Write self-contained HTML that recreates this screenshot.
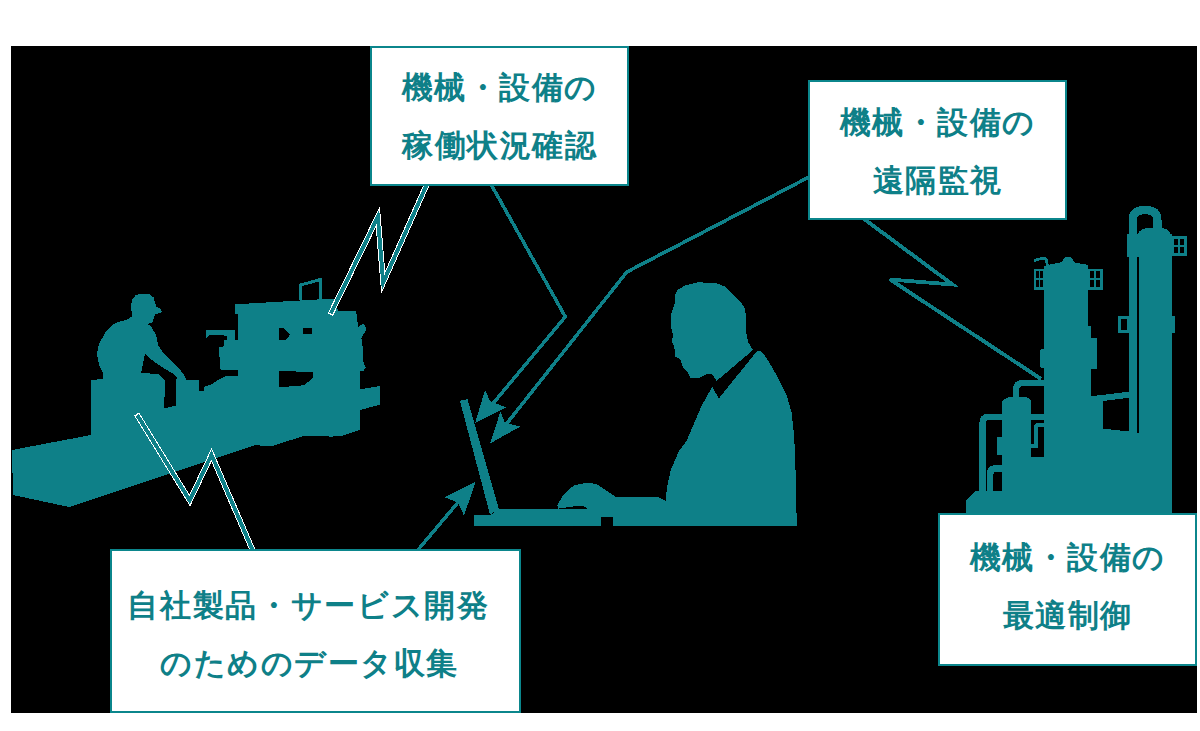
<!DOCTYPE html>
<html lang="ja">
<head>
<meta charset="utf-8">
<style>
html,body{margin:0;padding:0;background:#fff;width:1200px;height:731px;overflow:hidden;}
#stage{position:relative;width:1200px;height:731px;}
#bg{position:absolute;left:11px;top:46px;width:1186px;height:667px;background:#000;}
svg{position:absolute;left:0;top:0;}
.box{position:absolute;box-sizing:border-box;background:#fff;border:2px solid #0b868c;}
.t{position:absolute;left:0;right:0;text-align:center;white-space:nowrap;font-family:"Liberation Sans",sans-serif;font-weight:bold;color:#0e8088;font-size:30.5px;line-height:32px;letter-spacing:1.5px;}
</style>
</head>
<body>
<div id="stage">
<div id="bg"></div>
<svg width="1200" height="731" viewBox="0 0 1200 731" shape-rendering="crispEdges">
<g fill="#0e8088" stroke="none">
<!-- machine + worker -->
<path id="machine" d="M12,450 L91,435 L90.5,380 L103,379 L103,373 L99,365 L97,354 L99,344 L105,333 L112,325 L118,322 L126,320 L131.7,316.6 L131.3,304.1 L132.1,299.4 L135.5,295.5 L141.2,293.6 L148.9,294 L153.7,297.4 L155,303.2 L156.6,307 L160.4,308.9 L161.9,311.4 L160.4,313.3 L155.6,313.7 L153.7,318.5 L152.3,322.3 L147.9,324.2 L150.8,326.1 L156,335 L158.5,346 L164,354 L172,361.6 L179.5,369 L184,375 L186,379.5 L199,380.2 L199.5,390.8 L204,390.8 L204,387 L212,384 L219,379.5 L226.6,375.7 L238,375.7 L238,370.5 L220.6,369.7 L219.8,363.7 L219.1,347.1 L223.6,346.4 L223.6,340.4 L226.6,339.6 L226.6,335.9 L219.8,335 L209.3,335 L206.3,338 L206.3,329.8 L235,329.8 L235,339.6 L238,339.6 L238,314 L235.3,314 L235.3,304.3 L334,298.5 L338,310.5 L355.8,310.5 L357,316 L358,327 L363.5,323.6 L366.8,329 L361.3,337.9 L362.4,344.4 L363.5,362 L365.7,367.4 L363.5,370.7 L360.2,370.7 L360.2,389.3 L380,386 L380,404.7 L360,410 L360,430 L342.6,435.5 L331.7,436.6 L305.4,435.5 L270.4,446.5 L255,445 L69,507 L13,495 Z"/>
</g>
<g fill="#000">
<path d="M145,354 L141,373 L158.5,374 L165,380.7 L164.2,408.4 L175.7,405.6 L175.7,379.7 L177.6,377.8 L172,373 L162.3,367.3 L152.7,360.6 Z"/>
<path d="M279,328 L284,328 L290,334.5 L286,340 L279,340 Z"/>
<path d="M303.3,328 L312,328 L312,333.5 L303.3,333.5 Z"/>
<path d="M279.2,371 L313.1,372 L313.1,377.5 L304.3,385.2 L279.2,387.4 Z"/>
</g>
<path d="M300.5,300 V285 L320.5,279.5 V299" fill="none" stroke="#0e8088" stroke-width="3"/>

<!-- person -->
<g fill="#0e8088">
<path d="M675.3,294.2 L677.2,290.3 L684.9,285.5 L698.3,282.3 L715.5,283 L725.1,286.5 L736.6,298 L744.3,306.6 L746.2,317.1 L746.2,332.5 L748.1,342 L753,350 L716.5,381 L712.7,374.6 L707.9,373.6 L700.2,377.5 L690.6,378.4 L687.8,372.7 L683,367 L680.1,359.3 L675.3,356.4 L674.4,347.8 L671.5,340.1 L673.4,336.3 L670.5,324.8 L671.5,313.3 L675.3,301.8 Z"/>
<path d="M756.5,351.7 L760.4,350.9 L764,354.5 L768.2,360.8 L777.3,376.4 L786.4,394.5 L791.6,412.7 L794.2,436.1 L795.5,469.9 L796.8,525.5 L613.3,525.5 L613.3,517.3 L600.7,517.3 L600.7,525.5 L474,525.5 L474,515.3 L490,515.3 L498.7,509.3 L588.7,509.3 L583.3,506 L576.7,506 L558,508.7 L557.3,505.3 L563.3,494.7 L574,485.3 L587.3,482.7 L596.7,484 L603.3,488.7 L616.7,497.3 L658.2,497.2 L665.6,501 L666.9,488 L670.8,469.9 L678.6,451.7 L686.4,441.3 L702,405 L712.3,386.8 L718.8,398.4 Z"/>
<!-- laptop screen -->
<path d="M459.9,400.8 L467.5,399.3 L499,509.3 L490,514.5 Z"/>
</g>
<!-- arrows -->
<g fill="none" stroke="#0e8088" stroke-width="3.5" stroke-linejoin="miter">
<polyline points="491.4,185 565.3,316.7 486,412"/>
<polyline points="808.7,177.2 626.8,272 500,432"/>
<polyline points="417.9,550 460,500"/>
<polyline points="864.4,219.2 952.5,284.5 890,279.5 1041,378.9" stroke-width="3.8"/>
</g>
<g fill="#0e8088">
<path d="M475.2,422.7 L485,389.9 L490,401 L505.8,407.4 Z"/>
<path d="M490,443.5 L500.4,411.7 L505,423 L520.5,426.4 Z"/>
<path d="M475.7,481.7 L444.3,497.1 L458,502.6 L464,515.6 Z"/>
</g>
<!-- zigzags with white outline -->
<g fill="none" stroke-linejoin="miter" stroke-miterlimit="30">
<polyline points="136.6,414 189.75,500.5 211.5,454.8 253,551" stroke="#fff" stroke-width="5.8"/>
<polyline points="137.3,415.1 189.75,500.5 211.5,454.8 253,551" stroke="#0e8088" stroke-width="3.9"/>
<polyline points="427,184 383.2,282.5 377.85,216.9 330.3,314.6" stroke="#fff" stroke-width="5.8"/>
<polyline points="427,184 383.2,282.5 377.85,216.9 330.9,313.4" stroke="#0e8088" stroke-width="3.9"/>
</g>

<!-- factory -->
<g fill="#0e8088">
<path d="M966,513.5 L966,500.2 L975.4,491 L1172.1,491 L1172.1,513.5 Z"/>
<path d="M1002,513 V401 L1009,396.7 H1025.6 L1030.7,399.7 V513 Z"/>
<rect x="996.9" y="436.6" width="6" height="18.4"/>
<rect x="1030" y="414" width="16" height="99"/>
<path d="M1044,266.5 L1048.4,264.9 L1060.4,262.4 L1062.2,262.4 Q1062.6,257.1 1068,257.1 Q1073.4,257.1 1073.9,262.4 L1076,262.7 L1087.3,264.8 L1088.3,266.5 V513 H1044 Z"/>

<rect x="1040.3" y="348.6" width="57" height="19.7" rx="2"/>
<rect x="1088" y="326" width="3" height="76"/>
<rect x="1090" y="337.6" width="7.3" height="31"/>
<path d="M1088.5,396.6 L1138.5,390.5 L1138.5,396.6 L1088.5,402.8 Z"/>
<rect x="1088" y="400" width="15" height="91"/>
<rect x="1088" y="428" width="84.1" height="63"/>
<rect x="1128.9" y="234.4" width="43.2" height="279"/>
<rect x="1126.9" y="234.4" width="45.2" height="23"/>
<path d="M1137.7,234.4 Q1140,228 1150,227.9 L1160,227.9 Q1169,228 1170.5,234.4 Z"/>
<rect x="1128" y="316" width="46.8" height="16.5"/>
</g>
<g fill="none" stroke="#0e8088">
<path d="M982.5,491 V423 Q982.5,417 988.5,417 H1003" stroke-width="6.2"/>
<path d="M990.2,491 V474 Q990.2,468.4 995.5,468.4 H1003" stroke-width="6.5"/>
<path d="M1016,398 V390 Q1016,383.3 1022,383.3 H1046" stroke-width="6.2"/>
<path d="M1132.8,236 V220 Q1132.8,210 1145,210 Q1157.3,210 1157.3,220 V232" stroke-width="8.4"/>
<rect x="1035" y="270" width="9" height="18.5" stroke-width="2.5"/>
<path d="M1039.5,270 V288.5 M1035,279 H1044" stroke-width="1.5"/>
<rect x="1088.7" y="270" width="12.8" height="18.5" stroke-width="2.5"/>
<path d="M1095,270 V288.5 M1088.7,279 H1101.5" stroke-width="1.5"/>
<rect x="1119.3" y="317.3" width="9" height="14" stroke-width="2.5"/>
<rect x="1173" y="237.5" width="12.5" height="16.8" stroke-width="2.5"/>
<path d="M1179,237.5 V254.3 M1173,246 H1185.5" stroke-width="1.5"/>
<path d="M1034,261 Q1040,257.5 1046,259 L1047.5,266" stroke-width="2.8"/>
</g>
<g fill="#000">
<path d="M1102.8,401.5 L1128.9,398 L1128.9,431.5 L1102.8,428.6 Z"/>
<rect x="1136.7" y="257.4" width="2.2" height="175.4"/>
<rect x="1031" y="419.5" width="13" height="37.5"/>
</g>
<path d="M1045,425 H1039 Q1036,425 1036,428 V446 H1031" fill="none" stroke="#0e8088" stroke-width="4.5"/>
</svg>

<div class="box" style="left:370px;top:46px;width:259px;height:140px;"><div class="t" style="top:23px">機械・設備の</div><div class="t" style="top:81px">稼働状況確認</div></div>
<div class="box" style="left:808px;top:80px;width:259px;height:140px;"><div class="t" style="top:24px">機械・設備の</div><div class="t" style="top:82px">遠隔監視</div></div>
<div class="box" style="left:110px;top:549px;width:411px;height:164px;"><div class="t" style="top:38px;left:-14px;letter-spacing:1.7px">自社製品・サービス開発</div><div class="t" style="top:96px;left:-12px">のためのデータ収集</div></div>
<div class="box" style="left:938px;top:513px;width:259px;height:153px;"><div class="t" style="top:26px">機械・設備の</div><div class="t" style="top:84px">最適制御</div></div>
</div>
</body>
</html>
